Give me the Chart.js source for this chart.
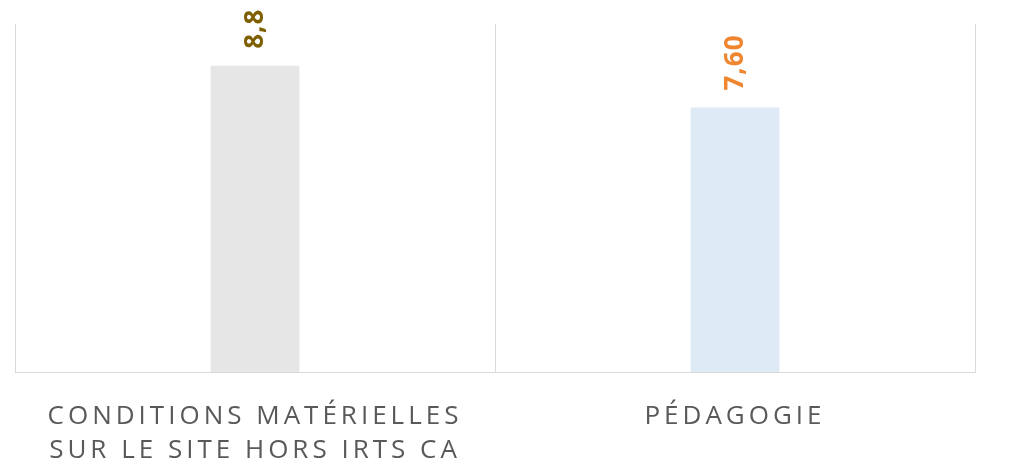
<!DOCTYPE html>
<html>
<head>
<meta charset="utf-8">
<script src="https://cdn.jsdelivr.net/npm/chart.js@4/dist/chart.umd.min.js"></script>
<style>
  html, body { margin: 0; padding: 0; background: #fff; }
  #wrap { width: 1014px; height: 466px; }
</style>
</head>
<body>
<div id="wrap"><canvas id="chart"></canvas></div>
<script>
// chart data
const categories = [
    ['CONDITIONS MATÉRIELLES', 'SUR LE SITE HORS IRTS CA'],
    ['PÉDAGOGIE']
];
const values = [8.8, 7.6];
const valueLabels = ['8,8', '7,60'];
const barColors = ['#E6E6E6', '#DEEAF6'];
const labelColors = ['#7F6000', '#F08530'];

// rotated value labels above each bar
const valueLabelPlugin = {
    id: 'valueLabels',
    afterDatasetsDraw(chart) {
        const ctx = chart.ctx;
        const meta = chart.getDatasetMeta(0);
        meta.data.forEach((bar, i) => {
            ctx.save();
            ctx.letterSpacing = '1px';
            ctx.translate(bar.x, bar.y - 17);
            ctx.rotate(-Math.PI / 2);
            ctx.font = 'bold 26px "Open Sans"';
            ctx.fillStyle = labelColors[i];
            ctx.textAlign = 'left';
            ctx.textBaseline = 'middle';
            ctx.fillText(valueLabels[i], 0, 1);
            ctx.restore();
        });
    }
};

// spaced-out category labels
const letterSpacingPlugin = {
    id: 'letterSpacing',
    beforeDraw(chart) { chart.ctx.letterSpacing = '4px'; },
    afterDraw(chart) { chart.ctx.letterSpacing = '0px'; }
};

new Chart(document.getElementById('chart'), {
    type: 'bar',
    data: {
        labels: categories,
        datasets: [{
            data: values,
            backgroundColor: barColors,
            barPercentage: 0.185,
            categoryPercentage: 1
        }]
    },
    options: {
        responsive: true,
        maintainAspectRatio: false,
        animation: false,
        layout: { padding: { left: 15, right: 39, top: 24, bottom: 0 } },
        plugins: {
            legend: { display: false },
            tooltip: { enabled: false }
        },
        scales: {
            x: {
                grid: { color: '#D9D9D9', lineWidth: 1, drawTicks: false, offset: true },
                border: { color: '#D9D9D9', width: 1 },
                ticks: {
                    color: '#595959',
                    font: { family: '"Open Sans"', size: 26, lineHeight: 1.33 },
                    padding: 27,
                    maxRotation: 0,
                    autoSkip: false
                },
                afterFit(scale) { scale.height = 94; }
            },
            y: {
                display: false,
                min: 0,
                max: 10
            }
        }
    },
    plugins: [valueLabelPlugin, letterSpacingPlugin]
});
</script>
</body>
</html>
